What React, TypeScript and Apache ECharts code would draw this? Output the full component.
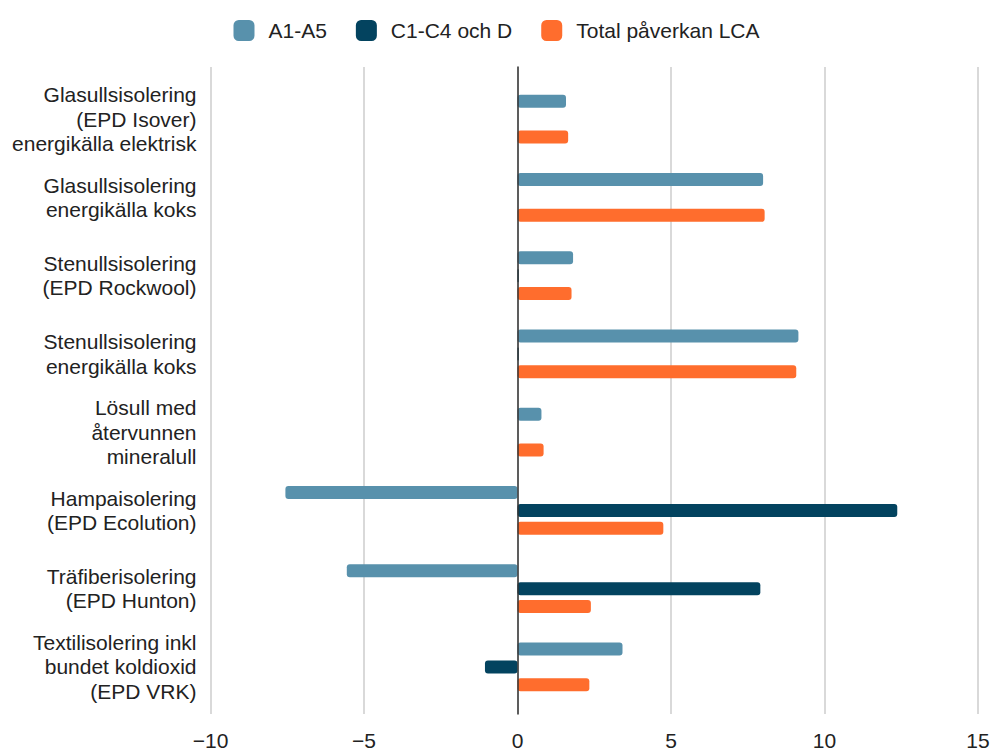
import React, { useEffect, useRef } from "react";
import * as echarts from "echarts";

const categories = [
  "Glasullsisolering\n(EPD Isover)\nenergikälla elektrisk",
  "Glasullsisolering\nenergikälla koks",
  "Stenullsisolering\n(EPD Rockwool)",
  "Stenullsisolering\nenergikälla koks",
  "Lösull med\nåtervunnen\nmineralull",
  "Hampaisolering\n(EPD Ecolution)",
  "Träfiberisolering\n(EPD Hunton)",
  "Textilisolering inkl\nbundet koldioxid\n(EPD VRK)",
];

const seriesNames = ["A1-A5", "C1-C4 och D", "Total påverkan LCA"];
const a1a5 = [1.58, 8.0, 1.81, 9.15, 0.78, -7.56, -5.56, 3.42];
const c1c4d = [0, 0, 0.04, 0.04, 0, 12.37, 7.91, -1.06];
const total = [1.65, 8.05, 1.76, 9.08, 0.85, 4.75, 2.39, 2.34];

const xMin = -10;
const xMax = 15;
const xStep = 5;

const colors = ["#5891ac", "#03435f", "#ff6d2d"];
const FONT = "Liberation Sans, Arial, sans-serif";
const TEXT = "#222222";
const FONT_SIZE = 21;

export default function App() {
  const ref = useRef<HTMLDivElement>(null);

  useEffect(() => {
    if (!ref.current) return;
    const chart = echarts.init(ref.current, null, { renderer: "svg" });
    const gridLeft = 210.5;
    const gridRight = 15;

    const barBase = {
      type: "bar" as const,
      xAxisIndex: 1,
      yAxisIndex: 1,
      barWidth: 13,
      barGap: "38%",
    };

    chart.setOption({
      animation: false,
      color: colors,
      legend: {
        top: 15,
        left: "center",
        itemWidth: 21,
        itemHeight: 21,
        itemGap: 29,
        icon: "roundRect",
        data: seriesNames,
        textStyle: {
          fontFamily: FONT,
          fontSize: FONT_SIZE,
          color: TEXT,
          padding: [0, 0, 0, 9],
        },
      },
      grid: [
        // frame for the value gridlines and zero line
        { left: gridLeft, right: gridRight, top: 67, bottom: 36 },
        // bars
        { left: gridLeft, right: gridRight, top: 80, bottom: 45 },
      ],
      xAxis: [
        {
          type: "value",
          gridIndex: 0,
          min: xMin,
          max: xMax,
          interval: xStep,
          axisLine: { show: false },
          axisTick: { show: false },
          axisLabel: {
            fontFamily: FONT,
            fontSize: FONT_SIZE,
            color: TEXT,
            margin: 16,
            formatter: (v: number) => (v < 0 ? "\u2212" + Math.abs(v) : String(v)),
          },
          splitLine: { show: true, lineStyle: { color: "#cccccc", width: 1.5 } },
        },
        {
          type: "value",
          gridIndex: 1,
          min: xMin,
          max: xMax,
          interval: xStep,
          show: false,
          splitLine: { show: false },
        },
      ],
      yAxis: [
        {
          type: "value",
          gridIndex: 0,
          min: 0,
          max: 1,
          axisLine: { show: true, onZero: true, lineStyle: { color: "#333", width: 1.5 } },
          axisTick: { show: false },
          axisLabel: { show: false },
          splitLine: { show: false },
          z: 5,
        },
        {
          type: "category",
          gridIndex: 1,
          data: categories,
          inverse: true,
          axisLine: { show: false },
          axisTick: { show: false },
          axisLabel: {
            fontFamily: FONT,
            fontSize: FONT_SIZE,
            color: TEXT,
            lineHeight: 24.5,
            align: "right",
            margin: 14,
          },
        },
      ],
      series: [
        { ...barBase, name: seriesNames[0], data: a1a5, itemStyle: { color: colors[0], borderRadius: 3 } },
        { ...barBase, name: seriesNames[1], data: c1c4d, itemStyle: { color: colors[1], borderRadius: 3 } },
        { ...barBase, name: seriesNames[2], data: total, itemStyle: { color: colors[2], borderRadius: 3 } },
      ],
    });

    return () => chart.dispose();
  }, []);

  return (
    <div
      ref={ref}
      style={{ position: "absolute", left: 0, top: 0, width: 993, height: 751, background: "#fff" }}
    />
  );
}
